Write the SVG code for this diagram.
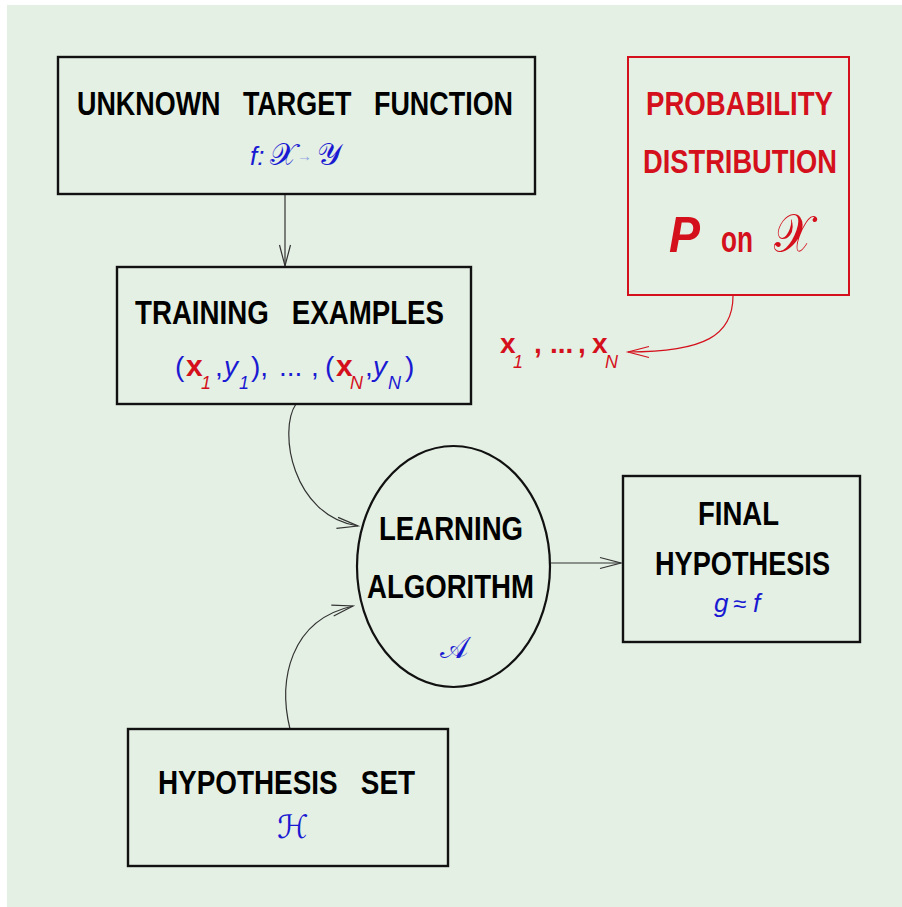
<svg xmlns="http://www.w3.org/2000/svg" width="902" height="907" viewBox="0 0 902 907">
  <style>
    .box { fill: none; stroke: #111; stroke-width: 2.4; }
    .pbox { fill: none; stroke: #d4101c; stroke-width: 2; }
    .lbl { font-family: "Liberation Sans", Arial, sans-serif; font-weight: bold; font-size: 33px; fill: #000; white-space: pre; }
    .rlbl { font-family: "Liberation Sans", Arial, sans-serif; font-weight: bold; font-size: 33px; fill: #d4101c; white-space: pre; }
    .m { font-family: "Liberation Sans", Arial, sans-serif; font-size: 28px; }
    .it { font-style: italic; }
    .bd { font-weight: bold; }
    .sub { font-family: "Liberation Sans", Arial, sans-serif; font-size: 18px; font-style: italic; }
    .scr { font-family: "DejaVu Serif", "DejaVu Sans", "Liberation Serif", serif; font-style: normal; }
    .blue { fill: #1a1ad2; }
    .red { fill: #d4101c; }
    .conn { fill: none; stroke: #333; stroke-width: 1.2; }
    .rconn { fill: none; stroke: #d4101c; stroke-width: 1.2; }
  </style>
  <defs>
    <marker id="arr" markerUnits="userSpaceOnUse" markerWidth="30" markerHeight="20" viewBox="-25 -10 30 20" refX="0" refY="0" orient="auto" overflow="visible">
      <path d="M-21,-5.5 L0,0 L-21,5.5" fill="none" stroke="#333" stroke-width="1.2"/>
    </marker>
    <marker id="rarr" markerUnits="userSpaceOnUse" markerWidth="30" markerHeight="20" viewBox="-25 -10 30 20" refX="0" refY="0" orient="auto" overflow="visible">
      <path d="M-21,-5.5 L0,0 L-21,5.5" fill="none" stroke="#d4101c" stroke-width="1.2"/>
    </marker>
  </defs>

  <!-- background panel -->
  <rect x="0" y="0" width="902" height="907" fill="#ffffff"/>
  <rect x="7" y="5" width="895" height="902" fill="#e4f0e4"/>

  <!-- connectors -->
  <g id="connectors">
    <line class="conn" x1="285" y1="194" x2="285" y2="266" marker-end="url(#arr)"/>
    <path class="conn" d="M296,404 C278,430 292,516 358,526" marker-end="url(#arr)"/>
    <path class="conn" d="M290,729 C278,680 290,620 353,606" marker-end="url(#arr)"/>
    <line class="conn" x1="551" y1="563" x2="621" y2="563" marker-end="url(#arr)"/>
    <path class="rconn" d="M733,296 C733,335 705,352 628,352" marker-end="url(#rarr)"/>
  </g>

  <!-- unknown target function -->
  <g id="target">
    <rect class="box" x="58" y="57" width="477" height="137"/>
    <text class="lbl" x="77" y="115" textLength="436" lengthAdjust="spacingAndGlyphs">UNKNOWN   TARGET   FUNCTION</text>
    <text class="m it blue" x="250" y="165" style="font-size:26px">f:</text>
    <text class="scr blue" x="270" y="165" style="font-size:31px">𝒳</text>
    <text class="m" x="297" y="161" style="font-size:15px" fill="#8ea4e2">→</text>
    <text class="scr blue" x="317" y="165" style="font-size:31px">𝒴</text>
  </g>

  <!-- probability distribution -->
  <g id="distribution">
    <rect class="pbox" x="628" y="57" width="221" height="238"/>
    <text class="rlbl" x="646" y="115" textLength="187" lengthAdjust="spacingAndGlyphs">PROBABILITY</text>
    <text class="rlbl" x="643" y="173" textLength="194" lengthAdjust="spacingAndGlyphs">DISTRIBUTION</text>
    <text class="m bd it red" x="669" y="252" style="font-size:50px" textLength="31" lengthAdjust="spacingAndGlyphs">P</text>
    <text class="m bd red" x="721" y="252" style="font-size:36px" textLength="32" lengthAdjust="spacingAndGlyphs">on</text>
    <text class="scr red" x="774" y="252" style="font-size:54px" textLength="38" lengthAdjust="spacingAndGlyphs">𝒳</text>
  </g>

  <!-- sampled inputs -->
  <g id="samples">
    <text class="m bd red" x="500" y="353">x</text>
    <text class="sub red" x="513" y="368">1</text>
    <text class="m bd red" x="534" y="353">,</text>
    <text class="m bd red" x="550" y="353">...</text>
    <text class="m bd red" x="578" y="353">,</text>
    <text class="m bd red" x="592" y="353">x</text>
    <text class="sub red" x="605" y="368">N</text>
  </g>

  <!-- training examples -->
  <g id="training">
    <rect class="box" x="117" y="267" width="354" height="137"/>
    <text class="lbl" x="135" y="324" textLength="309" lengthAdjust="spacingAndGlyphs">TRAINING   EXAMPLES</text>
    <text class="m blue" x="175" y="376">(</text>
    <text class="m bd red" x="186" y="376" style="font-size:30px">x</text>
    <text class="sub red" x="201" y="389">1</text>
    <text class="m blue" x="215" y="376">,</text>
    <text class="m it blue" x="224" y="376">y</text>
    <text class="sub blue" x="239" y="389">1</text>
    <text class="m blue" x="251" y="376">),</text>
    <text class="m blue" x="279" y="376">...</text>
    <text class="m blue" x="311" y="376">,</text>
    <text class="m blue" x="325" y="376">(</text>
    <text class="m bd red" x="336" y="376" style="font-size:30px">x</text>
    <text class="sub red" x="350" y="389">N</text>
    <text class="m blue" x="365" y="376">,</text>
    <text class="m it blue" x="373" y="376">y</text>
    <text class="sub blue" x="388" y="389">N</text>
    <text class="m blue" x="405" y="376">)</text>
  </g>

  <!-- learning algorithm -->
  <g id="learning">
    <ellipse cx="453.5" cy="566.5" rx="96.5" ry="120.5" fill="none" stroke="#111" stroke-width="2.2"/>
    <text class="lbl" x="379" y="540" textLength="144" lengthAdjust="spacingAndGlyphs">LEARNING</text>
    <text class="lbl" x="367" y="598" textLength="167" lengthAdjust="spacingAndGlyphs">ALGORITHM</text>
    <text class="scr blue" x="440" y="658" style="font-size:30px">𝒜</text>
  </g>

  <!-- final hypothesis -->
  <g id="final">
    <rect class="box" x="623" y="476" width="237" height="166"/>
    <text class="lbl" x="698" y="525" textLength="81" lengthAdjust="spacingAndGlyphs">FINAL</text>
    <text class="lbl" x="655" y="575" textLength="175" lengthAdjust="spacingAndGlyphs">HYPOTHESIS</text>
    <text class="m it blue" x="714" y="612" style="font-size:26px">g</text>
    <text class="m blue" x="733" y="612" style="font-size:24px">≈</text>
    <text class="m it blue" x="753" y="612" style="font-size:26px">f</text>
  </g>

  <!-- hypothesis set -->
  <g id="hypothesis-set">
    <rect class="box" x="128" y="729" width="320" height="137"/>
    <text class="lbl" x="158" y="794" textLength="257" lengthAdjust="spacingAndGlyphs">HYPOTHESIS   SET</text>
    <text class="scr blue" x="277" y="838" style="font-size:32px">ℋ</text>
  </g>
</svg>
